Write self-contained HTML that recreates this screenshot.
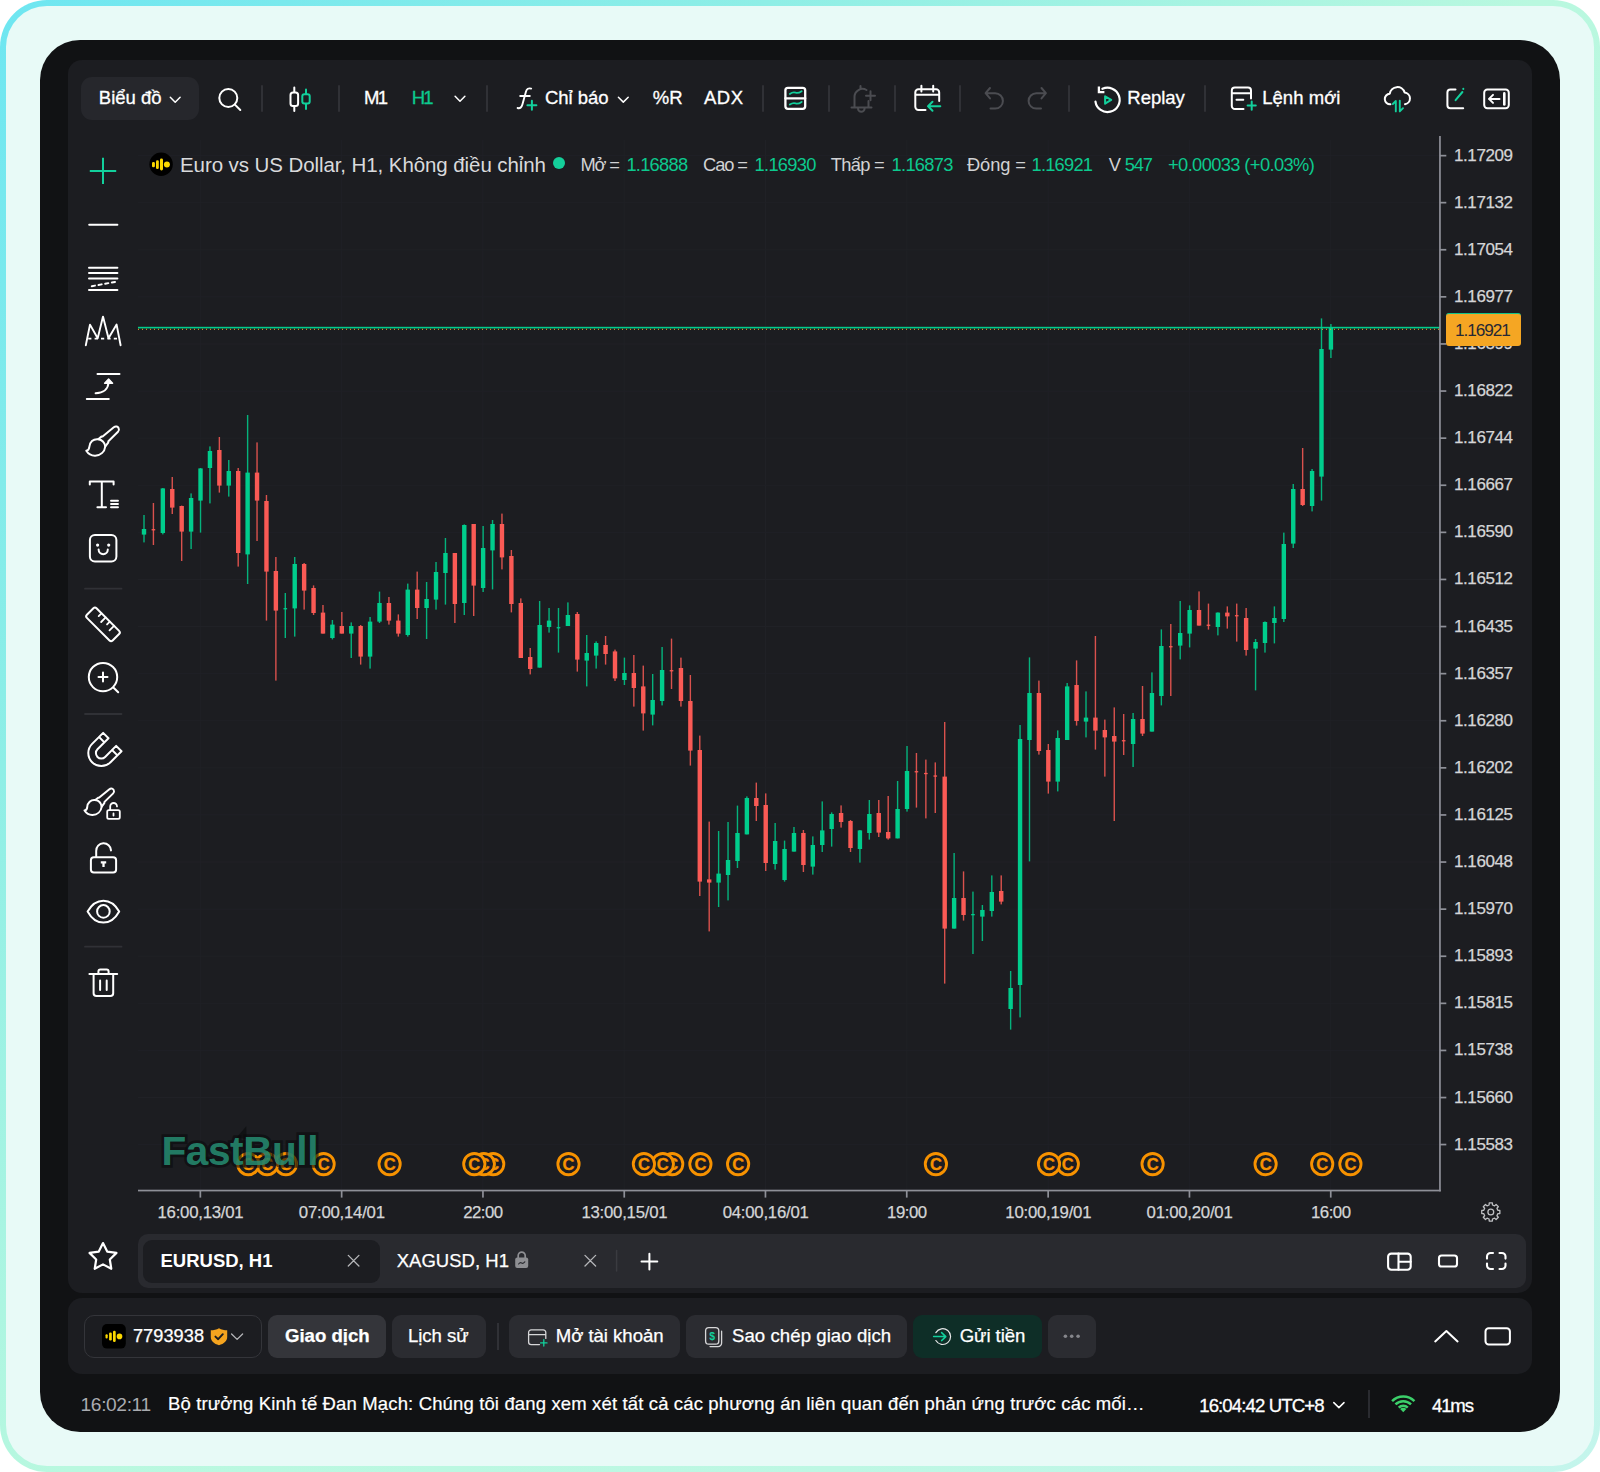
<!DOCTYPE html>
<html lang="vi">
<head>
<meta charset="utf-8">
<title>FastBull chart</title>
<style>
*{box-sizing:border-box;margin:0;padding:0}
html,body{width:1600px;height:1472px;background:#fff;overflow:hidden}
body{position:relative;font-family:"Liberation Sans",sans-serif;color:#fff}
.abs{position:absolute}
.frame{position:absolute;left:0;top:0;width:1600px;height:1472px;border-radius:47px;background:linear-gradient(135deg,#6ee6f1 0%,#8eeee6 25%,#b9f8df 50%,#bdf7e3 75%,#c4f5ec 100%)}
.frame-in{position:absolute;left:6px;top:6px;width:1588px;height:1460px;border-radius:41px;background:#e8faf7}
.dark{position:absolute;left:40px;top:40px;width:1520px;height:1392px;border-radius:40px;background:#111214}
.panel{position:absolute;left:68px;top:60px;width:1463.5px;height:1233.2px;border-radius:14px;background:#1c1d21}
.panel2{position:absolute;left:68px;top:1298.3px;width:1463.5px;height:75.9px;border-radius:14px;background:#1c1d21}
.t{position:absolute;white-space:nowrap;line-height:24px;height:24px}
.sep{position:absolute;width:2px;height:27px;top:85px;background:#303136;border-radius:1px}
.btn{position:absolute;top:1315px;height:43px;border-radius:9px;background:#2b2c31}
svg{position:absolute;overflow:visible}
</style>
</head>
<body>
<div class="frame"><div class="frame-in"></div></div>
<div class="dark"></div>
<div class="panel"></div>
<div class="panel2"></div>

<!-- ===== chart ===== -->
<svg width="1600" height="1472" viewBox="0 0 1600 1472" style="left:0;top:0">
<rect x="199.8" y="140" width="1" height="1050" fill="#202126"/>
<rect x="341.1" y="140" width="1" height="1050" fill="#202126"/>
<rect x="482.4" y="140" width="1" height="1050" fill="#202126"/>
<rect x="623.7" y="140" width="1" height="1050" fill="#202126"/>
<rect x="765.0" y="140" width="1" height="1050" fill="#202126"/>
<rect x="906.3" y="140" width="1" height="1050" fill="#202126"/>
<rect x="1047.6" y="140" width="1" height="1050" fill="#202126"/>
<rect x="1188.9" y="140" width="1" height="1050" fill="#202126"/>
<rect x="1330.2" y="140" width="1" height="1050" fill="#202126"/>
<rect x="138" y="155.1" width="1302" height="1" fill="#202126"/>
<rect x="138" y="202.2" width="1302" height="1" fill="#202126"/>
<rect x="138" y="249.3" width="1302" height="1" fill="#202126"/>
<rect x="138" y="296.4" width="1302" height="1" fill="#202126"/>
<rect x="138" y="343.5" width="1302" height="1" fill="#202126"/>
<rect x="138" y="390.6" width="1302" height="1" fill="#202126"/>
<rect x="138" y="437.7" width="1302" height="1" fill="#202126"/>
<rect x="138" y="484.8" width="1302" height="1" fill="#202126"/>
<rect x="138" y="531.9" width="1302" height="1" fill="#202126"/>
<rect x="138" y="579.0" width="1302" height="1" fill="#202126"/>
<rect x="138" y="626.0" width="1302" height="1" fill="#202126"/>
<rect x="138" y="673.1" width="1302" height="1" fill="#202126"/>
<rect x="138" y="720.2" width="1302" height="1" fill="#202126"/>
<rect x="138" y="767.3" width="1302" height="1" fill="#202126"/>
<rect x="138" y="814.4" width="1302" height="1" fill="#202126"/>
<rect x="138" y="861.5" width="1302" height="1" fill="#202126"/>
<rect x="138" y="908.6" width="1302" height="1" fill="#202126"/>
<rect x="138" y="955.7" width="1302" height="1" fill="#202126"/>
<rect x="138" y="1002.8" width="1302" height="1" fill="#202126"/>
<rect x="138" y="1049.9" width="1302" height="1" fill="#202126"/>
<rect x="138" y="1097.0" width="1302" height="1" fill="#202126"/>
<rect x="138" y="1144.1" width="1302" height="1" fill="#202126"/>
<rect x="143.30" y="515.0" width="1.4" height="27.4" fill="#00cd8c" opacity="0.85"/><rect x="141.80" y="529.0" width="4.4" height="5.6" fill="#00cd8c"/>
<rect x="152.72" y="503.0" width="1.4" height="42.0" fill="#fa5a55" opacity="0.85"/><rect x="151.62" y="529.1" width="3.6" height="1.3" fill="#fa5a55"/>
<rect x="162.14" y="488.0" width="1.4" height="46.4" fill="#00cd8c" opacity="0.85"/><rect x="160.64" y="488.4" width="4.4" height="44.6" fill="#00cd8c"/>
<rect x="171.56" y="477.0" width="1.4" height="37.0" fill="#fa5a55" opacity="0.85"/><rect x="170.06" y="489.0" width="4.4" height="18.6" fill="#fa5a55"/>
<rect x="180.98" y="505.6" width="1.4" height="55.4" fill="#fa5a55" opacity="0.85"/><rect x="179.48" y="506.0" width="4.4" height="25.6" fill="#fa5a55"/>
<rect x="190.40" y="493.4" width="1.4" height="55.6" fill="#00cd8c" opacity="0.85"/><rect x="188.90" y="498.0" width="4.4" height="33.6" fill="#00cd8c"/>
<rect x="199.82" y="468.0" width="1.4" height="64.6" fill="#00cd8c" opacity="0.85"/><rect x="198.32" y="468.4" width="4.4" height="32.2" fill="#00cd8c"/>
<rect x="209.24" y="446.4" width="1.4" height="57.0" fill="#00cd8c" opacity="0.85"/><rect x="207.74" y="451.0" width="4.4" height="17.0" fill="#00cd8c"/>
<rect x="218.66" y="437.0" width="1.4" height="55.6" fill="#fa5a55" opacity="0.85"/><rect x="217.16" y="450.0" width="4.4" height="35.6" fill="#fa5a55"/>
<rect x="228.08" y="460.0" width="1.4" height="36.6" fill="#00cd8c" opacity="0.85"/><rect x="226.58" y="471.0" width="4.4" height="14.6" fill="#00cd8c"/>
<rect x="237.50" y="468.0" width="1.4" height="98.6" fill="#fa5a55" opacity="0.85"/><rect x="236.00" y="471.0" width="4.4" height="82.0" fill="#fa5a55"/>
<rect x="246.92" y="415.0" width="1.4" height="169.0" fill="#00cd8c" opacity="0.85"/><rect x="245.42" y="472.6" width="4.4" height="81.8" fill="#00cd8c"/>
<rect x="256.34" y="442.4" width="1.4" height="98.6" fill="#fa5a55" opacity="0.85"/><rect x="254.84" y="472.6" width="4.4" height="28.0" fill="#fa5a55"/>
<rect x="265.76" y="495.0" width="1.4" height="125.6" fill="#fa5a55" opacity="0.85"/><rect x="264.26" y="501.0" width="4.4" height="70.6" fill="#fa5a55"/>
<rect x="275.18" y="557.0" width="1.4" height="123.6" fill="#fa5a55" opacity="0.85"/><rect x="273.68" y="571.0" width="4.4" height="39.6" fill="#fa5a55"/>
<rect x="284.60" y="593.0" width="1.4" height="45.0" fill="#00cd8c" opacity="0.85"/><rect x="283.50" y="608.1" width="3.6" height="1.3" fill="#00cd8c"/>
<rect x="294.02" y="557.0" width="1.4" height="79.6" fill="#00cd8c" opacity="0.85"/><rect x="292.52" y="564.0" width="4.4" height="44.4" fill="#00cd8c"/>
<rect x="303.44" y="563.0" width="1.4" height="46.6" fill="#fa5a55" opacity="0.85"/><rect x="301.94" y="564.0" width="4.4" height="26.6" fill="#fa5a55"/>
<rect x="312.86" y="585.4" width="1.4" height="29.6" fill="#fa5a55" opacity="0.85"/><rect x="311.36" y="588.0" width="4.4" height="25.0" fill="#fa5a55"/>
<rect x="322.28" y="605.0" width="1.4" height="28.6" fill="#fa5a55" opacity="0.85"/><rect x="320.78" y="612.6" width="4.4" height="21.0" fill="#fa5a55"/>
<rect x="331.70" y="620.0" width="1.4" height="19.4" fill="#00cd8c" opacity="0.85"/><rect x="330.20" y="624.6" width="4.4" height="13.4" fill="#00cd8c"/>
<rect x="341.12" y="612.0" width="1.4" height="21.6" fill="#fa5a55" opacity="0.85"/><rect x="339.62" y="626.0" width="4.4" height="7.6" fill="#fa5a55"/>
<rect x="350.54" y="622.4" width="1.4" height="35.6" fill="#00cd8c" opacity="0.85"/><rect x="349.04" y="626.0" width="4.4" height="7.6" fill="#00cd8c"/>
<rect x="359.96" y="625.0" width="1.4" height="39.6" fill="#fa5a55" opacity="0.85"/><rect x="358.46" y="626.0" width="4.4" height="30.6" fill="#fa5a55"/>
<rect x="369.38" y="617.0" width="1.4" height="51.6" fill="#00cd8c" opacity="0.85"/><rect x="367.88" y="621.6" width="4.4" height="35.0" fill="#00cd8c"/>
<rect x="378.80" y="591.6" width="1.4" height="31.4" fill="#00cd8c" opacity="0.85"/><rect x="377.30" y="603.0" width="4.4" height="18.6" fill="#00cd8c"/>
<rect x="388.22" y="597.0" width="1.4" height="27.6" fill="#fa5a55" opacity="0.85"/><rect x="386.72" y="603.0" width="4.4" height="17.6" fill="#fa5a55"/>
<rect x="397.64" y="614.4" width="1.4" height="22.2" fill="#fa5a55" opacity="0.85"/><rect x="396.14" y="620.6" width="4.4" height="13.0" fill="#fa5a55"/>
<rect x="407.06" y="583.6" width="1.4" height="53.0" fill="#00cd8c" opacity="0.85"/><rect x="405.56" y="589.6" width="4.4" height="45.4" fill="#00cd8c"/>
<rect x="416.48" y="571.6" width="1.4" height="47.4" fill="#fa5a55" opacity="0.85"/><rect x="414.98" y="589.6" width="4.4" height="18.4" fill="#fa5a55"/>
<rect x="425.90" y="582.0" width="1.4" height="57.0" fill="#00cd8c" opacity="0.85"/><rect x="424.40" y="599.0" width="4.4" height="9.0" fill="#00cd8c"/>
<rect x="435.32" y="562.0" width="1.4" height="47.6" fill="#00cd8c" opacity="0.85"/><rect x="433.82" y="572.0" width="4.4" height="27.6" fill="#00cd8c"/>
<rect x="444.74" y="538.0" width="1.4" height="66.6" fill="#00cd8c" opacity="0.85"/><rect x="443.24" y="553.0" width="4.4" height="20.0" fill="#00cd8c"/>
<rect x="454.16" y="553.0" width="1.4" height="70.0" fill="#fa5a55" opacity="0.85"/><rect x="452.66" y="553.0" width="4.4" height="51.0" fill="#fa5a55"/>
<rect x="463.58" y="524.4" width="1.4" height="90.6" fill="#00cd8c" opacity="0.85"/><rect x="462.08" y="525.0" width="4.4" height="78.0" fill="#00cd8c"/>
<rect x="473.00" y="524.0" width="1.4" height="92.0" fill="#fa5a55" opacity="0.85"/><rect x="471.50" y="524.0" width="4.4" height="61.6" fill="#fa5a55"/>
<rect x="482.42" y="526.0" width="1.4" height="66.0" fill="#00cd8c" opacity="0.85"/><rect x="480.92" y="548.0" width="4.4" height="40.0" fill="#00cd8c"/>
<rect x="491.84" y="520.0" width="1.4" height="69.4" fill="#00cd8c" opacity="0.85"/><rect x="490.34" y="524.0" width="4.4" height="26.4" fill="#00cd8c"/>
<rect x="501.26" y="513.6" width="1.4" height="55.8" fill="#fa5a55" opacity="0.85"/><rect x="499.76" y="524.0" width="4.4" height="33.4" fill="#fa5a55"/>
<rect x="510.68" y="550.0" width="1.4" height="62.4" fill="#fa5a55" opacity="0.85"/><rect x="509.18" y="556.0" width="4.4" height="48.0" fill="#fa5a55"/>
<rect x="520.10" y="598.4" width="1.4" height="59.6" fill="#fa5a55" opacity="0.85"/><rect x="518.60" y="603.0" width="4.4" height="55.0" fill="#fa5a55"/>
<rect x="529.52" y="648.0" width="1.4" height="26.4" fill="#fa5a55" opacity="0.85"/><rect x="528.02" y="657.0" width="4.4" height="12.0" fill="#fa5a55"/>
<rect x="538.94" y="601.0" width="1.4" height="66.6" fill="#00cd8c" opacity="0.85"/><rect x="537.44" y="625.0" width="4.4" height="42.6" fill="#00cd8c"/>
<rect x="548.36" y="608.0" width="1.4" height="24.6" fill="#00cd8c" opacity="0.85"/><rect x="546.86" y="620.6" width="4.4" height="6.4" fill="#00cd8c"/>
<rect x="557.78" y="608.0" width="1.4" height="44.6" fill="#00cd8c" opacity="0.85"/><rect x="556.68" y="627.1" width="3.6" height="1.3" fill="#00cd8c"/>
<rect x="567.20" y="602.4" width="1.4" height="23.6" fill="#00cd8c" opacity="0.85"/><rect x="565.70" y="615.0" width="4.4" height="11.0" fill="#00cd8c"/>
<rect x="576.62" y="612.0" width="1.4" height="59.6" fill="#fa5a55" opacity="0.85"/><rect x="575.12" y="614.0" width="4.4" height="45.6" fill="#fa5a55"/>
<rect x="586.04" y="635.0" width="1.4" height="51.4" fill="#00cd8c" opacity="0.85"/><rect x="584.54" y="653.0" width="4.4" height="7.6" fill="#00cd8c"/>
<rect x="595.46" y="641.4" width="1.4" height="27.2" fill="#00cd8c" opacity="0.85"/><rect x="593.96" y="643.0" width="4.4" height="12.6" fill="#00cd8c"/>
<rect x="604.88" y="636.0" width="1.4" height="28.6" fill="#fa5a55" opacity="0.85"/><rect x="603.38" y="645.0" width="4.4" height="9.0" fill="#fa5a55"/>
<rect x="614.30" y="649.6" width="1.4" height="31.4" fill="#fa5a55" opacity="0.85"/><rect x="612.80" y="651.4" width="4.4" height="27.0" fill="#fa5a55"/>
<rect x="623.72" y="657.6" width="1.4" height="27.4" fill="#00cd8c" opacity="0.85"/><rect x="622.22" y="673.0" width="4.4" height="7.0" fill="#00cd8c"/>
<rect x="633.14" y="655.0" width="1.4" height="51.6" fill="#fa5a55" opacity="0.85"/><rect x="631.64" y="673.0" width="4.4" height="15.0" fill="#fa5a55"/>
<rect x="642.56" y="665.6" width="1.4" height="65.0" fill="#fa5a55" opacity="0.85"/><rect x="641.06" y="686.4" width="4.4" height="27.0" fill="#fa5a55"/>
<rect x="651.98" y="674.0" width="1.4" height="51.4" fill="#00cd8c" opacity="0.85"/><rect x="650.48" y="700.0" width="4.4" height="14.6" fill="#00cd8c"/>
<rect x="661.40" y="647.0" width="1.4" height="58.4" fill="#00cd8c" opacity="0.85"/><rect x="659.90" y="670.0" width="4.4" height="31.0" fill="#00cd8c"/>
<rect x="670.82" y="638.6" width="1.4" height="50.4" fill="#fa5a55" opacity="0.85"/><rect x="669.72" y="670.1" width="3.6" height="1.3" fill="#fa5a55"/>
<rect x="680.24" y="657.6" width="1.4" height="49.0" fill="#fa5a55" opacity="0.85"/><rect x="678.74" y="668.0" width="4.4" height="33.0" fill="#fa5a55"/>
<rect x="689.66" y="675.0" width="1.4" height="90.6" fill="#fa5a55" opacity="0.85"/><rect x="688.16" y="701.0" width="4.4" height="49.6" fill="#fa5a55"/>
<rect x="699.08" y="735.6" width="1.4" height="160.4" fill="#fa5a55" opacity="0.85"/><rect x="697.58" y="750.0" width="4.4" height="131.6" fill="#fa5a55"/>
<rect x="708.50" y="821.6" width="1.4" height="109.8" fill="#fa5a55" opacity="0.85"/><rect x="707.00" y="879.4" width="4.4" height="3.2" fill="#fa5a55"/>
<rect x="717.92" y="831.0" width="1.4" height="76.0" fill="#00cd8c" opacity="0.85"/><rect x="716.42" y="873.6" width="4.4" height="9.0" fill="#00cd8c"/>
<rect x="727.34" y="822.0" width="1.4" height="78.4" fill="#00cd8c" opacity="0.85"/><rect x="725.84" y="860.0" width="4.4" height="15.0" fill="#00cd8c"/>
<rect x="736.76" y="805.6" width="1.4" height="62.4" fill="#00cd8c" opacity="0.85"/><rect x="735.26" y="833.0" width="4.4" height="28.0" fill="#00cd8c"/>
<rect x="746.18" y="796.4" width="1.4" height="38.0" fill="#00cd8c" opacity="0.85"/><rect x="744.68" y="798.0" width="4.4" height="36.4" fill="#00cd8c"/>
<rect x="755.60" y="782.6" width="1.4" height="38.4" fill="#fa5a55" opacity="0.85"/><rect x="754.10" y="798.0" width="4.4" height="8.0" fill="#fa5a55"/>
<rect x="765.02" y="793.4" width="1.4" height="77.6" fill="#fa5a55" opacity="0.85"/><rect x="763.52" y="805.0" width="4.4" height="58.0" fill="#fa5a55"/>
<rect x="774.44" y="823.0" width="1.4" height="46.6" fill="#00cd8c" opacity="0.85"/><rect x="772.94" y="841.0" width="4.4" height="23.0" fill="#00cd8c"/>
<rect x="783.86" y="840.6" width="1.4" height="41.0" fill="#00cd8c" opacity="0.85"/><rect x="782.36" y="849.0" width="4.4" height="31.0" fill="#00cd8c"/>
<rect x="793.28" y="827.0" width="1.4" height="24.6" fill="#00cd8c" opacity="0.85"/><rect x="791.78" y="833.0" width="4.4" height="18.6" fill="#00cd8c"/>
<rect x="802.70" y="830.0" width="1.4" height="42.0" fill="#fa5a55" opacity="0.85"/><rect x="801.20" y="833.0" width="4.4" height="32.0" fill="#fa5a55"/>
<rect x="812.12" y="836.4" width="1.4" height="38.2" fill="#00cd8c" opacity="0.85"/><rect x="810.62" y="845.0" width="4.4" height="21.6" fill="#00cd8c"/>
<rect x="821.54" y="801.4" width="1.4" height="50.6" fill="#00cd8c" opacity="0.85"/><rect x="820.04" y="830.4" width="4.4" height="14.6" fill="#00cd8c"/>
<rect x="830.96" y="812.4" width="1.4" height="34.2" fill="#00cd8c" opacity="0.85"/><rect x="829.46" y="814.0" width="4.4" height="15.0" fill="#00cd8c"/>
<rect x="840.38" y="805.4" width="1.4" height="22.2" fill="#fa5a55" opacity="0.85"/><rect x="838.88" y="813.0" width="4.4" height="9.0" fill="#fa5a55"/>
<rect x="849.80" y="820.0" width="1.4" height="32.0" fill="#fa5a55" opacity="0.85"/><rect x="848.30" y="821.0" width="4.4" height="27.0" fill="#fa5a55"/>
<rect x="859.22" y="830.0" width="1.4" height="32.6" fill="#00cd8c" opacity="0.85"/><rect x="857.72" y="830.4" width="4.4" height="18.6" fill="#00cd8c"/>
<rect x="868.64" y="800.0" width="1.4" height="39.6" fill="#00cd8c" opacity="0.85"/><rect x="867.14" y="814.0" width="4.4" height="19.0" fill="#00cd8c"/>
<rect x="878.06" y="800.0" width="1.4" height="37.0" fill="#fa5a55" opacity="0.85"/><rect x="876.56" y="813.0" width="4.4" height="19.6" fill="#fa5a55"/>
<rect x="887.48" y="796.0" width="1.4" height="43.6" fill="#fa5a55" opacity="0.85"/><rect x="885.98" y="832.0" width="4.4" height="6.4" fill="#fa5a55"/>
<rect x="896.90" y="781.0" width="1.4" height="57.4" fill="#00cd8c" opacity="0.85"/><rect x="895.40" y="809.0" width="4.4" height="29.4" fill="#00cd8c"/>
<rect x="906.32" y="746.0" width="1.4" height="65.6" fill="#00cd8c" opacity="0.85"/><rect x="904.82" y="771.0" width="4.4" height="38.0" fill="#00cd8c"/>
<rect x="915.74" y="753.0" width="1.4" height="54.6" fill="#fa5a55" opacity="0.85"/><rect x="914.64" y="771.1" width="3.6" height="1.3" fill="#fa5a55"/>
<rect x="925.16" y="759.6" width="1.4" height="58.8" fill="#fa5a55" opacity="0.85"/><rect x="924.06" y="772.9" width="3.6" height="1.3" fill="#fa5a55"/>
<rect x="934.58" y="762.4" width="1.4" height="50.6" fill="#fa5a55" opacity="0.85"/><rect x="933.48" y="775.4" width="3.6" height="1.3" fill="#fa5a55"/>
<rect x="944.00" y="722.0" width="1.4" height="261.6" fill="#fa5a55" opacity="0.85"/><rect x="942.50" y="776.6" width="4.4" height="152.0" fill="#fa5a55"/>
<rect x="953.42" y="853.0" width="1.4" height="75.6" fill="#00cd8c" opacity="0.85"/><rect x="951.92" y="898.0" width="4.4" height="30.6" fill="#00cd8c"/>
<rect x="962.84" y="871.4" width="1.4" height="49.2" fill="#fa5a55" opacity="0.85"/><rect x="961.34" y="898.0" width="4.4" height="17.0" fill="#fa5a55"/>
<rect x="972.26" y="891.6" width="1.4" height="62.4" fill="#00cd8c" opacity="0.85"/><rect x="971.16" y="914.0" width="3.6" height="1.3" fill="#00cd8c"/>
<rect x="981.68" y="905.0" width="1.4" height="36.0" fill="#00cd8c" opacity="0.85"/><rect x="980.18" y="910.0" width="4.4" height="6.6" fill="#00cd8c"/>
<rect x="991.10" y="875.4" width="1.4" height="41.2" fill="#00cd8c" opacity="0.85"/><rect x="989.60" y="892.0" width="4.4" height="19.0" fill="#00cd8c"/>
<rect x="1000.52" y="875.4" width="1.4" height="29.0" fill="#fa5a55" opacity="0.85"/><rect x="999.02" y="891.0" width="4.4" height="10.6" fill="#fa5a55"/>
<rect x="1009.94" y="971.0" width="1.4" height="58.6" fill="#00cd8c" opacity="0.85"/><rect x="1008.44" y="988.0" width="4.4" height="21.0" fill="#00cd8c"/>
<rect x="1019.36" y="725.0" width="1.4" height="292.4" fill="#00cd8c" opacity="0.85"/><rect x="1017.86" y="739.0" width="4.4" height="246.0" fill="#00cd8c"/>
<rect x="1028.78" y="657.4" width="1.4" height="204.0" fill="#00cd8c" opacity="0.85"/><rect x="1027.28" y="693.0" width="4.4" height="47.0" fill="#00cd8c"/>
<rect x="1038.20" y="680.6" width="1.4" height="74.0" fill="#fa5a55" opacity="0.85"/><rect x="1036.70" y="693.0" width="4.4" height="58.0" fill="#fa5a55"/>
<rect x="1047.62" y="744.0" width="1.4" height="49.6" fill="#fa5a55" opacity="0.85"/><rect x="1046.12" y="750.0" width="4.4" height="31.6" fill="#fa5a55"/>
<rect x="1057.04" y="730.4" width="1.4" height="61.0" fill="#00cd8c" opacity="0.85"/><rect x="1055.54" y="738.0" width="4.4" height="43.6" fill="#00cd8c"/>
<rect x="1066.46" y="683.0" width="1.4" height="57.0" fill="#00cd8c" opacity="0.85"/><rect x="1064.96" y="686.4" width="4.4" height="53.6" fill="#00cd8c"/>
<rect x="1075.88" y="660.4" width="1.4" height="65.2" fill="#fa5a55" opacity="0.85"/><rect x="1074.38" y="685.0" width="4.4" height="36.0" fill="#fa5a55"/>
<rect x="1085.30" y="691.4" width="1.4" height="46.0" fill="#00cd8c" opacity="0.85"/><rect x="1083.80" y="717.6" width="4.4" height="4.0" fill="#00cd8c"/>
<rect x="1094.72" y="636.0" width="1.4" height="113.6" fill="#fa5a55" opacity="0.85"/><rect x="1093.22" y="717.6" width="4.4" height="13.0" fill="#fa5a55"/>
<rect x="1104.14" y="719.6" width="1.4" height="57.0" fill="#fa5a55" opacity="0.85"/><rect x="1102.64" y="730.0" width="4.4" height="7.4" fill="#fa5a55"/>
<rect x="1113.56" y="707.4" width="1.4" height="113.6" fill="#fa5a55" opacity="0.85"/><rect x="1112.06" y="736.0" width="4.4" height="5.6" fill="#fa5a55"/>
<rect x="1122.98" y="714.0" width="1.4" height="41.0" fill="#fa5a55" opacity="0.85"/><rect x="1121.88" y="740.1" width="3.6" height="1.3" fill="#fa5a55"/>
<rect x="1132.40" y="713.0" width="1.4" height="54.0" fill="#00cd8c" opacity="0.85"/><rect x="1130.90" y="719.0" width="4.4" height="25.0" fill="#00cd8c"/>
<rect x="1141.82" y="686.0" width="1.4" height="50.0" fill="#fa5a55" opacity="0.85"/><rect x="1140.32" y="719.0" width="4.4" height="14.6" fill="#fa5a55"/>
<rect x="1151.24" y="672.4" width="1.4" height="59.2" fill="#00cd8c" opacity="0.85"/><rect x="1149.74" y="693.0" width="4.4" height="38.6" fill="#00cd8c"/>
<rect x="1160.66" y="629.4" width="1.4" height="76.0" fill="#00cd8c" opacity="0.85"/><rect x="1159.16" y="646.0" width="4.4" height="50.0" fill="#00cd8c"/>
<rect x="1170.08" y="624.0" width="1.4" height="72.0" fill="#fa5a55" opacity="0.85"/><rect x="1168.98" y="646.1" width="3.6" height="1.3" fill="#fa5a55"/>
<rect x="1179.50" y="601.0" width="1.4" height="58.4" fill="#00cd8c" opacity="0.85"/><rect x="1178.00" y="633.0" width="4.4" height="12.6" fill="#00cd8c"/>
<rect x="1188.92" y="605.4" width="1.4" height="42.0" fill="#00cd8c" opacity="0.85"/><rect x="1187.42" y="610.0" width="4.4" height="23.6" fill="#00cd8c"/>
<rect x="1198.34" y="591.4" width="1.4" height="34.2" fill="#fa5a55" opacity="0.85"/><rect x="1196.84" y="610.0" width="4.4" height="15.6" fill="#fa5a55"/>
<rect x="1207.76" y="603.6" width="1.4" height="26.0" fill="#fa5a55" opacity="0.85"/><rect x="1206.66" y="624.6" width="3.6" height="1.3" fill="#fa5a55"/>
<rect x="1217.18" y="612.4" width="1.4" height="23.0" fill="#00cd8c" opacity="0.85"/><rect x="1215.68" y="612.6" width="4.4" height="14.4" fill="#00cd8c"/>
<rect x="1226.60" y="606.4" width="1.4" height="22.2" fill="#fa5a55" opacity="0.85"/><rect x="1225.10" y="612.6" width="4.4" height="3.8" fill="#fa5a55"/>
<rect x="1236.02" y="603.6" width="1.4" height="38.0" fill="#fa5a55" opacity="0.85"/><rect x="1234.92" y="615.1" width="3.6" height="1.3" fill="#fa5a55"/>
<rect x="1245.44" y="608.0" width="1.4" height="47.6" fill="#fa5a55" opacity="0.85"/><rect x="1243.94" y="618.0" width="4.4" height="32.0" fill="#fa5a55"/>
<rect x="1254.86" y="639.0" width="1.4" height="51.4" fill="#00cd8c" opacity="0.85"/><rect x="1253.36" y="642.0" width="4.4" height="6.6" fill="#00cd8c"/>
<rect x="1264.28" y="621.4" width="1.4" height="31.2" fill="#00cd8c" opacity="0.85"/><rect x="1262.78" y="622.0" width="4.4" height="21.0" fill="#00cd8c"/>
<rect x="1273.70" y="606.4" width="1.4" height="37.0" fill="#00cd8c" opacity="0.85"/><rect x="1272.20" y="618.0" width="4.4" height="5.0" fill="#00cd8c"/>
<rect x="1283.12" y="532.6" width="1.4" height="89.4" fill="#00cd8c" opacity="0.85"/><rect x="1281.62" y="544.0" width="4.4" height="75.0" fill="#00cd8c"/>
<rect x="1292.54" y="484.0" width="1.4" height="64.0" fill="#00cd8c" opacity="0.85"/><rect x="1291.04" y="489.0" width="4.4" height="54.6" fill="#00cd8c"/>
<rect x="1301.96" y="448.0" width="1.4" height="58.0" fill="#fa5a55" opacity="0.85"/><rect x="1300.46" y="489.0" width="4.4" height="16.0" fill="#fa5a55"/>
<rect x="1311.38" y="469.0" width="1.4" height="42.4" fill="#00cd8c" opacity="0.85"/><rect x="1309.88" y="471.0" width="4.4" height="35.0" fill="#00cd8c"/>
<rect x="1320.80" y="318.4" width="1.4" height="182.2" fill="#00cd8c" opacity="0.85"/><rect x="1319.30" y="349.0" width="4.4" height="127.6" fill="#00cd8c"/>
<rect x="1330.22" y="324.0" width="1.4" height="34.0" fill="#00cd8c" opacity="0.85"/><rect x="1328.72" y="328.0" width="4.4" height="21.6" fill="#00cd8c"/>
<rect x="138" y="326.8" width="1302" height="1.6" fill="#00cd8c"/>
<line x1="138" y1="329.3" x2="1440" y2="329.3" stroke="#f5a623" stroke-width="1" stroke-dasharray="1 3"/>
<rect x="1439.1" y="136" width="1.7" height="1055.4" fill="#8e9098"/>
<rect x="138" y="1189.7" width="1302.8" height="1.7" fill="#8e9098"/>
<rect x="1440" y="154.8" width="6.3" height="1.7" fill="#8e9098"/>
<rect x="1440" y="201.8" width="6.3" height="1.7" fill="#8e9098"/>
<rect x="1440" y="248.9" width="6.3" height="1.7" fill="#8e9098"/>
<rect x="1440" y="296.0" width="6.3" height="1.7" fill="#8e9098"/>
<rect x="1440" y="343.1" width="6.3" height="1.7" fill="#8e9098"/>
<rect x="1440" y="390.2" width="6.3" height="1.7" fill="#8e9098"/>
<rect x="1440" y="437.3" width="6.3" height="1.7" fill="#8e9098"/>
<rect x="1440" y="484.4" width="6.3" height="1.7" fill="#8e9098"/>
<rect x="1440" y="531.5" width="6.3" height="1.7" fill="#8e9098"/>
<rect x="1440" y="578.6" width="6.3" height="1.7" fill="#8e9098"/>
<rect x="1440" y="625.7" width="6.3" height="1.7" fill="#8e9098"/>
<rect x="1440" y="672.8" width="6.3" height="1.7" fill="#8e9098"/>
<rect x="1440" y="719.9" width="6.3" height="1.7" fill="#8e9098"/>
<rect x="1440" y="767.0" width="6.3" height="1.7" fill="#8e9098"/>
<rect x="1440" y="814.1" width="6.3" height="1.7" fill="#8e9098"/>
<rect x="1440" y="861.2" width="6.3" height="1.7" fill="#8e9098"/>
<rect x="1440" y="908.3" width="6.3" height="1.7" fill="#8e9098"/>
<rect x="1440" y="955.4" width="6.3" height="1.7" fill="#8e9098"/>
<rect x="1440" y="1002.5" width="6.3" height="1.7" fill="#8e9098"/>
<rect x="1440" y="1049.6" width="6.3" height="1.7" fill="#8e9098"/>
<rect x="1440" y="1096.7" width="6.3" height="1.7" fill="#8e9098"/>
<rect x="1440" y="1143.7" width="6.3" height="1.7" fill="#8e9098"/>
<rect x="199.5" y="1190" width="1.7" height="7.6" fill="#8e9098"/>
<rect x="340.8" y="1190" width="1.7" height="7.6" fill="#8e9098"/>
<rect x="482.1" y="1190" width="1.7" height="7.6" fill="#8e9098"/>
<rect x="623.4" y="1190" width="1.7" height="7.6" fill="#8e9098"/>
<rect x="764.6" y="1190" width="1.7" height="7.6" fill="#8e9098"/>
<rect x="905.9" y="1190" width="1.7" height="7.6" fill="#8e9098"/>
<rect x="1047.3" y="1190" width="1.7" height="7.6" fill="#8e9098"/>
<rect x="1188.6" y="1190" width="1.7" height="7.6" fill="#8e9098"/>
<rect x="1329.9" y="1190" width="1.7" height="7.6" fill="#8e9098"/>
<g><circle cx="1350.4" cy="1164.1" r="10.65" fill="#1c1d21" stroke="#f79200" stroke-width="2.85"/><text x="1350.4" y="1169.9" text-anchor="middle" font-family="Liberation Sans, sans-serif" font-weight="bold" font-size="16.6" textLength="11.9" lengthAdjust="spacingAndGlyphs" fill="#f79200" stroke="#f79200" stroke-width="0.35">C</text></g>
<g><circle cx="1322.2" cy="1164.1" r="10.65" fill="#1c1d21" stroke="#f79200" stroke-width="2.85"/><text x="1322.2" y="1169.9" text-anchor="middle" font-family="Liberation Sans, sans-serif" font-weight="bold" font-size="16.6" textLength="11.9" lengthAdjust="spacingAndGlyphs" fill="#f79200" stroke="#f79200" stroke-width="0.35">C</text></g>
<g><circle cx="1265.6" cy="1164.1" r="10.65" fill="#1c1d21" stroke="#f79200" stroke-width="2.85"/><text x="1265.6" y="1169.9" text-anchor="middle" font-family="Liberation Sans, sans-serif" font-weight="bold" font-size="16.6" textLength="11.9" lengthAdjust="spacingAndGlyphs" fill="#f79200" stroke="#f79200" stroke-width="0.35">C</text></g>
<g><circle cx="1152.6" cy="1164.1" r="10.65" fill="#1c1d21" stroke="#f79200" stroke-width="2.85"/><text x="1152.6" y="1169.9" text-anchor="middle" font-family="Liberation Sans, sans-serif" font-weight="bold" font-size="16.6" textLength="11.9" lengthAdjust="spacingAndGlyphs" fill="#f79200" stroke="#f79200" stroke-width="0.35">C</text></g>
<g><circle cx="1067.8" cy="1164.1" r="10.65" fill="#1c1d21" stroke="#f79200" stroke-width="2.85"/><text x="1067.8" y="1169.9" text-anchor="middle" font-family="Liberation Sans, sans-serif" font-weight="bold" font-size="16.6" textLength="11.9" lengthAdjust="spacingAndGlyphs" fill="#f79200" stroke="#f79200" stroke-width="0.35">C</text></g>
<g><circle cx="1049.0" cy="1164.1" r="10.65" fill="#1c1d21" stroke="#f79200" stroke-width="2.85"/><text x="1049.0" y="1169.9" text-anchor="middle" font-family="Liberation Sans, sans-serif" font-weight="bold" font-size="16.6" textLength="11.9" lengthAdjust="spacingAndGlyphs" fill="#f79200" stroke="#f79200" stroke-width="0.35">C</text></g>
<g><circle cx="935.9" cy="1164.1" r="10.65" fill="#1c1d21" stroke="#f79200" stroke-width="2.85"/><text x="935.9" y="1169.9" text-anchor="middle" font-family="Liberation Sans, sans-serif" font-weight="bold" font-size="16.6" textLength="11.9" lengthAdjust="spacingAndGlyphs" fill="#f79200" stroke="#f79200" stroke-width="0.35">C</text></g>
<g><circle cx="738.1" cy="1164.1" r="10.65" fill="#1c1d21" stroke="#f79200" stroke-width="2.85"/><text x="738.1" y="1169.9" text-anchor="middle" font-family="Liberation Sans, sans-serif" font-weight="bold" font-size="16.6" textLength="11.9" lengthAdjust="spacingAndGlyphs" fill="#f79200" stroke="#f79200" stroke-width="0.35">C</text></g>
<g><circle cx="700.4" cy="1164.1" r="10.65" fill="#1c1d21" stroke="#f79200" stroke-width="2.85"/><text x="700.4" y="1169.9" text-anchor="middle" font-family="Liberation Sans, sans-serif" font-weight="bold" font-size="16.6" textLength="11.9" lengthAdjust="spacingAndGlyphs" fill="#f79200" stroke="#f79200" stroke-width="0.35">C</text></g>
<g><circle cx="672.2" cy="1164.1" r="10.65" fill="#1c1d21" stroke="#f79200" stroke-width="2.85"/><text x="672.2" y="1169.9" text-anchor="middle" font-family="Liberation Sans, sans-serif" font-weight="bold" font-size="16.6" textLength="11.9" lengthAdjust="spacingAndGlyphs" fill="#f79200" stroke="#f79200" stroke-width="0.35">C</text></g>
<g><circle cx="662.8" cy="1164.1" r="10.65" fill="#1c1d21" stroke="#f79200" stroke-width="2.85"/><text x="662.8" y="1169.9" text-anchor="middle" font-family="Liberation Sans, sans-serif" font-weight="bold" font-size="16.6" textLength="11.9" lengthAdjust="spacingAndGlyphs" fill="#f79200" stroke="#f79200" stroke-width="0.35">C</text></g>
<g><circle cx="643.9" cy="1164.1" r="10.65" fill="#1c1d21" stroke="#f79200" stroke-width="2.85"/><text x="643.9" y="1169.9" text-anchor="middle" font-family="Liberation Sans, sans-serif" font-weight="bold" font-size="16.6" textLength="11.9" lengthAdjust="spacingAndGlyphs" fill="#f79200" stroke="#f79200" stroke-width="0.35">C</text></g>
<g><circle cx="568.5" cy="1164.1" r="10.65" fill="#1c1d21" stroke="#f79200" stroke-width="2.85"/><text x="568.5" y="1169.9" text-anchor="middle" font-family="Liberation Sans, sans-serif" font-weight="bold" font-size="16.6" textLength="11.9" lengthAdjust="spacingAndGlyphs" fill="#f79200" stroke="#f79200" stroke-width="0.35">C</text></g>
<g><circle cx="493.2" cy="1164.1" r="10.65" fill="#1c1d21" stroke="#f79200" stroke-width="2.85"/><text x="493.2" y="1169.9" text-anchor="middle" font-family="Liberation Sans, sans-serif" font-weight="bold" font-size="16.6" textLength="11.9" lengthAdjust="spacingAndGlyphs" fill="#f79200" stroke="#f79200" stroke-width="0.35">C</text></g>
<g><circle cx="483.8" cy="1164.1" r="10.65" fill="#1c1d21" stroke="#f79200" stroke-width="2.85"/><text x="483.8" y="1169.9" text-anchor="middle" font-family="Liberation Sans, sans-serif" font-weight="bold" font-size="16.6" textLength="11.9" lengthAdjust="spacingAndGlyphs" fill="#f79200" stroke="#f79200" stroke-width="0.35">C</text></g>
<g><circle cx="474.3" cy="1164.1" r="10.65" fill="#1c1d21" stroke="#f79200" stroke-width="2.85"/><text x="474.3" y="1169.9" text-anchor="middle" font-family="Liberation Sans, sans-serif" font-weight="bold" font-size="16.6" textLength="11.9" lengthAdjust="spacingAndGlyphs" fill="#f79200" stroke="#f79200" stroke-width="0.35">C</text></g>
<g><circle cx="389.6" cy="1164.1" r="10.65" fill="#1c1d21" stroke="#f79200" stroke-width="2.85"/><text x="389.6" y="1169.9" text-anchor="middle" font-family="Liberation Sans, sans-serif" font-weight="bold" font-size="16.6" textLength="11.9" lengthAdjust="spacingAndGlyphs" fill="#f79200" stroke="#f79200" stroke-width="0.35">C</text></g>
<g><circle cx="323.6" cy="1164.1" r="10.65" fill="#1c1d21" stroke="#f79200" stroke-width="2.85"/><text x="323.6" y="1169.9" text-anchor="middle" font-family="Liberation Sans, sans-serif" font-weight="bold" font-size="16.6" textLength="11.9" lengthAdjust="spacingAndGlyphs" fill="#f79200" stroke="#f79200" stroke-width="0.35">C</text></g>
<g><circle cx="285.9" cy="1164.1" r="10.65" fill="#1c1d21" stroke="#f79200" stroke-width="2.85"/><text x="285.9" y="1169.9" text-anchor="middle" font-family="Liberation Sans, sans-serif" font-weight="bold" font-size="16.6" textLength="11.9" lengthAdjust="spacingAndGlyphs" fill="#f79200" stroke="#f79200" stroke-width="0.35">C</text></g>
<g><circle cx="267.1" cy="1164.1" r="10.65" fill="#1c1d21" stroke="#f79200" stroke-width="2.85"/><text x="267.1" y="1169.9" text-anchor="middle" font-family="Liberation Sans, sans-serif" font-weight="bold" font-size="16.6" textLength="11.9" lengthAdjust="spacingAndGlyphs" fill="#f79200" stroke="#f79200" stroke-width="0.35">C</text></g>
<g><circle cx="248.3" cy="1164.1" r="10.65" fill="#1c1d21" stroke="#f79200" stroke-width="2.85"/><text x="248.3" y="1169.9" text-anchor="middle" font-family="Liberation Sans, sans-serif" font-weight="bold" font-size="16.6" textLength="11.9" lengthAdjust="spacingAndGlyphs" fill="#f79200" stroke="#f79200" stroke-width="0.35">C</text></g>
</svg>

<!-- ===== top toolbar ===== -->
<div class="abs" style="left:81.3px;top:76.8px;width:117.4px;height:43px;border-radius:11px;background:#26272c"></div>
<div class="sep" style="left:261px"></div>
<div class="sep" style="left:337.5px"></div>
<div class="sep" style="left:486px"></div>
<div class="sep" style="left:761.5px"></div>
<div class="sep" style="left:827.5px"></div>
<div class="sep" style="left:893.5px"></div>
<div class="sep" style="left:959px"></div>
<div class="sep" style="left:1068px"></div>
<div class="sep" style="left:1204px"></div>
<svg width="1600" height="1472" viewBox="0 0 1600 1472" style="left:0;top:0" fill="none" stroke="#fff" stroke-width="2" stroke-linecap="round" stroke-linejoin="round">
<!-- chevrons -->
<path d="M170.3,97.3 l4.9,4.9 l4.9,-4.9" stroke-width="1.5"/>
<path d="M455.1,96.3 l4.9,4.9 l4.9,-4.9" stroke-width="1.5"/>
<path d="M618.4,97.2 l4.9,4.9 l4.9,-4.9" stroke-width="1.5"/>
<!-- search -->
<circle cx="228.3" cy="98" r="9"/><path d="M234.9,104.6 L240.3,110"/>
<!-- candle icon -->
<rect x="290.5" y="92.5" width="7.6" height="13.5" rx="2.5"/><path d="M294.3,87.5 V92 M294.3,106.5 V111"/>
<g stroke="#12d09c"><rect x="302.3" y="94.3" width="7.4" height="9.2" rx="2"/><path d="M306,89.5 V94 M306,104 V109"/></g>
<!-- f+ -->
<path d="M517.6,108 q3.6,1 4.8,-3.4 l3.6,-13 q1.2,-4.2 5.2,-3 M520.2,96 h9.6" stroke-width="1.9"/>
<path d="M527.4,105.2 h9 M531.9,100.7 v9" stroke="#12d09c"/>
<!-- pane icon -->
<rect x="785.4" y="87.8" width="19.8" height="21" rx="2.5" stroke-width="2.3"/><path d="M785.4,98.3 H805.2" stroke-width="2.3"/>
<g stroke="#12d09c" stroke-width="1.8"><path d="M789.8,93.9 q3,-2 5.8,-1.2 t6,-1.5"/><path d="M789.8,104.6 q3,-2 5.8,-1.2 t6,-1.5"/></g>
<!-- bell (disabled) -->
<g stroke="#4b4c51"><path d="M851.5,107.5 H871.5 M854.5,107 V97 a8,8 0 0 1 12,-7 M868.5,101 V107 M860.5,86 v2.5 M858,108.5 a3.3,3.3 0 0 0 6.6,0"/><path d="M866,95.7 h9 M870.5,91.2 v9"/></g>
<!-- calendar -->
<path d="M925.5,110 H918.5 a3.2,3.2 0 0 1 -3.2,-3.2 V92.5 a3.2,3.2 0 0 1 3.2,-3.2 H936 a3.2,3.2 0 0 1 3.2,3.2 V101 M915.3,94.8 H939.2 M921.4,85.8 V91.5 M933.2,85.8 V91.5"/>
<path d="M940.3,106.3 H928 M932.5,101.8 L928,106.3 L932.5,110.8" stroke="#12d09c"/>
<!-- undo / redo (disabled) -->
<g stroke="#4b4c51"><path d="M990,88 L985.6,93.2 L990,98.4 M985.8,93.2 H995.2 a7.7,7.7 0 0 1 0,15.4 H990.5"/>
<path d="M1041.5,88 L1045.9,93.2 L1041.5,98.4 M1045.7,93.2 H1036.3 a7.7,7.7 0 0 0 0,15.4 H1041"/></g>
<!-- replay -->
<path d="M1102.4,88.85 A12.15,12.15 0 1 1 1095.47,101.54" stroke-width="2.2"/><path d="M1098.9,86.6 V92.1 H1104.4" stroke-width="2.3" stroke-linecap="butt" stroke-linejoin="miter"/>
<path d="M1105.1,96.3 L1111.2,99.95 L1105.1,103.7 Z" stroke="#12d09c" stroke-width="2"/>
<!-- new order -->
<path d="M1243.5,109 H1234.8 a3,3 0 0 1 -3,-3 V90.4 a3,3 0 0 1 3,-3 H1248 a3,3 0 0 1 3,3 V98.5 M1231.8,93.2 H1251 M1236.5,99.8 H1243.3"/>
<path d="M1247.6,105.6 h8.2 M1251.7,101.5 v8.2" stroke="#12d09c"/>
<!-- cloud -->
<path d="M1390.4,104.3 a5.3,5.3 0 0 1 -0.6,-10.6 a7.6,7.6 0 0 1 14.8,-1.2 a5.9,5.9 0 0 1 0.4,11.7"/>
<g stroke="#12d09c" stroke-width="1.9"><path d="M1395.8,111.4 V101 l-3,3 M1399.8,100.6 V111.4 l3.2,-3.2"/></g>
<!-- edit -->
<path d="M1455.5,89.6 H1450.4 a3,3 0 0 0 -3,3 V105.3 a3,3 0 0 0 3,3 H1463.2"/>
<path d="M1455.6,100.2 L1462.4,92 M1463.3,88.8 v0.1" stroke="#12d09c"/>
<!-- collapse -->
<rect x="1484.2" y="89.6" width="24.6" height="18.6" rx="3.2"/><path d="M1504.3,93.4 V104.4" stroke-width="2.6"/><path d="M1499.5,98.9 H1489 M1493,94.9 L1489,98.9 L1493,102.9"/>
</svg>


<!-- ===== left toolbar ===== -->
<svg width="1600" height="1472" viewBox="0 0 1600 1472" style="left:0;top:0" fill="none" stroke="#fff" stroke-width="2" stroke-linecap="round" stroke-linejoin="round">
<!-- cross -->
<path d="M89.8,170.9 H116.2 M103,157.7 V184.1" stroke="#12d09c" stroke-linecap="butt"/>
<!-- line -->
<path d="M89.2,224.8 H117.4"/>
<!-- fib lines -->
<path d="M89,267.8 H117.4 M89,273.1 H117.4 M89,278.4 H117.4 M89,290 H117.4"/>
<path d="M91.8,286.2 L115,281.9" stroke-dasharray="3.2 3.6"/>
<!-- peaks -->
<path d="M85.8,345.2 L90,324.6 L97.7,338.2 L103,316.6 L108.5,338.2 L116.6,324.6 L120.6,345.2" stroke-width="1.9"/>
<path d="M88.2,338.6 H118.6" stroke-dasharray="3.2 3.2" stroke-width="1.7" stroke-linecap="butt"/>
<!-- arrow between lines -->
<path d="M97.5,373.9 H119.5 M86.8,398.9 H108.8"/>
<path d="M95.6,393.2 C103.5,393 108.2,389 108.5,382.5"/>
<path d="M108.6,379 L104.6,383.2 H112.6 Z" fill="#fff" stroke-width="1.4"/>
<!-- brush -->
<g id="brush"><path d="M98.2,439.2 C93.2,438.6 89.6,442 89.3,447 C89.1,449.6 87.6,450.6 86.3,450.8 C88.6,454.4 92,455.8 95.2,455.7 C100.4,455.5 104.6,452 105.3,446.4 C104.6,442.6 101.8,439.7 98.2,439.2 Z"/>
<path d="M98.2,439.2 L101.4,436.6 L102.6,436.4 L113.8,427.2 C115.8,425.6 118.2,426.6 118.8,428.6 C119.3,430 118.6,431.2 118,431.8 L108.4,441.2 L108.2,442.6 L105.3,446.4"/></g>
<!-- T text -->
<path d="M89.8,484.4 V481.6 H113.6 V484.4 M101.8,481.6 V507.2 M97.4,507.2 H106"/>
<path d="M111,500.7 H118 M111,504 H118 M111,507.3 H118" stroke-width="1.9"/>
<!-- smiley -->
<rect x="89.9" y="534.9" width="26.5" height="26.5" rx="5"/>
<circle cx="97.6" cy="545.1" r="1.6" fill="#fff" stroke="none"/><circle cx="108.7" cy="545.1" r="1.6" fill="#fff" stroke="none"/>
<path d="M98.6,549.6 a4.6,4.6 0 0 0 9.2,0"/>
<!-- separators -->
<path d="M85,588.7 H121.5 M85,714 H121.5 M85,946.7 H121.5" stroke="#303136" stroke-width="1.8"/>
<!-- ruler -->
<g transform="translate(103,624.4) rotate(45)"><rect x="-18.2" y="-6.8" width="36.4" height="13.6" rx="2.2"/><path d="M-8.9,-6.8 v4 M-3,-6.8 v6.4 M2.9,-6.8 v4 M8.8,-6.8 v6.4" stroke-width="1.8"/></g>
<!-- zoom in -->
<circle cx="103" cy="677.1" r="14.2"/><path d="M98.5,677.1 H107.5 M103,672.6 V681.6 M113.6,687.7 L118.2,692.3"/>
<!-- magnet -->
<g transform="translate(101.3,753.1) rotate(45)"><path d="M-13,-15.6 V0 A13,13 0 0 0 13,0 V-15.6 H5.4 V0 A5.4,5.4 0 0 1 -5.4,0 V-15.6 Z M-13,-9.8 H-5.4 M5.4,-9.8 H13"/></g>
<!-- brush + lock -->
<g transform="translate(6.4,402.6) scale(0.905)" stroke-width="2.2"><path d="M98.2,439.2 C93.2,438.6 89.6,442 89.3,447 C89.1,449.6 87.6,450.6 86.3,450.8 C88.6,454.4 92,455.8 95.2,455.7 C100.4,455.5 104.6,452 105.3,446.4 C104.6,442.6 101.8,439.7 98.2,439.2 Z"/>
<path d="M98.2,439.2 L101.4,436.6 L102.6,436.4 L113.8,427.2 C115.8,425.6 118.2,426.6 118.8,428.6 C119.3,430 118.6,431.2 118,431.8 L108.4,441.2 L108.2,442.6 L105.3,446.4"/></g>
<rect x="107.2" y="810.2" width="12.6" height="8.6" rx="1.6" stroke-width="1.8"/><path d="M110.2,810 V806.4 a3.4,3.4 0 0 1 6.8,0 M113.5,813.4 v2.2" stroke-width="1.8"/>
<!-- lock -->
<rect x="90.9" y="857.3" width="25.2" height="15.2" rx="3"/><path d="M96.2,857 V851 a7.4,7.4 0 0 1 14.8,-0.6"/>
<path d="M100.8,862.4 H106.2 M103.5,862.4 V867" stroke-width="2.3" stroke-linecap="butt"/>
<!-- eye -->
<path d="M87.6,911.4 C92,903.8 97.4,900.7 103.4,900.7 C109.4,900.7 114.8,903.8 119.2,911.4 C114.8,919.4 109.4,922.5 103.4,922.5 C97.4,922.5 92,919.4 87.6,911.4 Z"/><circle cx="103.4" cy="911.4" r="6.3"/>
<!-- trash -->
<path d="M89.4,974 H117.2 M98.4,973.6 V971.4 a2,2 0 0 1 2,-2 H106.6 a2,2 0 0 1 2,2 V973.6 M93.6,974.4 V993.2 a2.8,2.8 0 0 0 2.8,2.8 H110.4 a2.8,2.8 0 0 0 2.8,-2.8 V974.4 M100.1,980.6 V990 M106.7,980.6 V990"/>
</svg>


<!-- ===== legend ===== -->
<svg width="1600" height="1472" viewBox="0 0 1600 1472" style="left:0;top:0"><circle cx="161.1" cy="164.3" r="11.7" fill="#000"/><g fill="#fcd800"><rect x="152" y="162" width="2.9" height="5.3" rx="1.3"/><rect x="156" y="160.2" width="2.8" height="8.8" rx="1.3"/><rect x="160" y="158.5" width="3" height="12" rx="1.4"/><circle cx="166.9" cy="164.5" r="3"/></g></svg>
<div class="abs" style="left:553px;top:157px;width:12px;height:12px;border-radius:6px;background:#14cf9a"></div>

<!-- watermark -->
<svg width="1600" height="1472" viewBox="0 0 1600 1472" style="left:0;top:0"><path d="M236.5,1137.5 L246.3,1126.2 L246.6,1139 Z" fill="rgba(10,11,13,0.62)"/></svg>
<div class="abs" style="left:161.5px;top:1125.6px;font-size:40.6px;line-height:50px;font-weight:bold;letter-spacing:-0.45px;color:rgba(38,146,118,0.84);-webkit-text-stroke:5.5px rgba(10,11,13,0.62);paint-order:stroke fill">FastBull</div>

<!-- ===== tabs ===== -->
<div class="abs" style="left:138px;top:1234px;width:1388px;height:54px;border-radius:10px;background:#292a2f"></div>
<div class="abs" style="left:143px;top:1239.5px;width:237px;height:43px;border-radius:9px;background:#1c1d21"></div>
<svg width="1600" height="1472" viewBox="0 0 1600 1472" style="left:0;top:0" fill="none" stroke="#fff" stroke-width="2" stroke-linecap="round" stroke-linejoin="round">
<path d="M103.0,1243.1 L107.2,1251.6 L116.5,1252.9 L109.8,1259.5 L111.3,1268.8 L103.0,1264.4 L94.7,1268.8 L96.2,1259.5 L89.5,1252.9 L98.8,1251.6 Z" stroke-width="2.2"/>
<path d="M348.3,1255.4 l10.6,10.6 M358.9,1255.4 l-10.6,10.6 M585,1255.4 l10.6,10.6 M595.6,1255.4 l-10.6,10.6" stroke="#b5b6b9" stroke-width="1.3"/>
<path d="M616.6,1250.5 V1271" stroke="#3a3b40" stroke-width="1.5"/>
<path d="M641.5,1261.6 H657.3 M649.4,1253.7 V1269.5"/>
<!-- small lock -->
<rect x="515.2" y="1257.6" width="13" height="10.4" rx="2" fill="#8e8f93" stroke="none"/><path d="M518.2,1258 V1255.6 a3.5,3.5 0 0 1 7,0 V1258" stroke="#8e8f93" stroke-width="1.7"/>
<path d="M518.6,1264 q1.6,-2 3,-1 t3.2,-1.2" stroke="#292a2f" stroke-width="1.1"/>
<!-- gear -->
<path d="M1499.86,1210.42 L1499.86,1213.58 L1497.80,1213.68 L1496.94,1215.76 L1498.33,1217.29 L1496.09,1219.53 L1494.56,1218.14 L1492.48,1219.00 L1492.38,1221.06 L1489.22,1221.06 L1489.12,1219.00 L1487.04,1218.14 L1485.51,1219.53 L1483.27,1217.29 L1484.66,1215.76 L1483.80,1213.68 L1481.74,1213.58 L1481.74,1210.42 L1483.80,1210.32 L1484.66,1208.24 L1483.27,1206.71 L1485.51,1204.47 L1487.04,1205.86 L1489.12,1205.00 L1489.22,1202.94 L1492.38,1202.94 L1492.48,1205.00 L1494.56,1205.86 L1496.09,1204.47 L1498.33,1206.71 L1496.94,1208.24 L1497.80,1210.32 Z" stroke="#bfc0c3" stroke-width="1.3"/><circle cx="1490.8" cy="1212" r="2.9" stroke="#bfc0c3" stroke-width="1.3"/>
<!-- layout icons -->
<rect x="1388.1" y="1253.6" width="22.6" height="16.1" rx="3.2" stroke-width="2.1"/><path d="M1398.5,1253.6 V1269.7 M1398.5,1261.8 H1410.7" stroke-width="2.1"/>
<rect x="1439" y="1255.5" width="18" height="11" rx="2.6" stroke-width="2.1"/>
<path d="M1493,1253 H1490.6 a3.6,3.6 0 0 0 -3.6,3.6 V1258.6 M1499.5,1253 H1501.9 a3.6,3.6 0 0 1 3.6,3.6 V1258.6 M1487,1263.6 V1265.4 a3.6,3.6 0 0 0 3.6,3.6 H1493 M1505.5,1263.6 V1265.4 a3.6,3.6 0 0 1 -3.6,3.6 H1499.5" stroke-width="2.1"/>
</svg>

<!-- ===== bottom bar ===== -->
<div class="abs" style="left:84px;top:1315px;width:178px;height:43px;border-radius:10px;border:1.5px solid #34353a"></div>
<div class="btn" style="left:268px;width:118px;background:#34353a"></div>
<div class="btn" style="left:392px;width:94px"></div>
<div class="abs" style="left:497px;top:1323px;width:1.5px;height:27px;background:#303136"></div>
<div class="btn" style="left:509px;width:171px"></div>
<div class="btn" style="left:686px;width:221px"></div>
<div class="btn" style="left:913px;width:129px;background:#0e2e27"></div>
<div class="btn" style="left:1048px;width:48px"></div>
<svg width="1600" height="1472" viewBox="0 0 1600 1472" style="left:0;top:0" fill="none" stroke="#fff" stroke-width="2" stroke-linecap="round" stroke-linejoin="round">
<!-- account logo -->
<rect x="102" y="1324" width="23.8" height="24.6" rx="5" fill="#000" stroke="none"/>
<g fill="#fcd800" stroke="none"><rect x="105.5" y="1334.2" width="2.2" height="4.4" rx="1"/><rect x="109.1" y="1332.5" width="2.7" height="7.9" rx="1.2"/><rect x="113" y="1330.7" width="2.7" height="11.2" rx="1.2"/><circle cx="119.5" cy="1336.4" r="2.8"/></g>
<!-- shield -->
<path d="M219,1328.2 C221.5,1329.6 224.3,1330.2 227.2,1330.3 V1337 C227.2,1341 224,1343.8 219,1345.2 C214,1343.8 210.8,1341 210.8,1337 V1330.3 C213.7,1330.2 216.5,1329.6 219,1328.2 Z" fill="#f5a41f" stroke="none"/>
<path d="M215.4,1336.6 L218.2,1339.2 L222.8,1334.2" stroke="#1c1d21" stroke-width="1.9"/>
<path d="M231.6,1334 l5.5,5.4 l5.5,-5.4" stroke="#b5b6b9" stroke-width="1.3"/>
<!-- open account icon -->
<g stroke="#d6d6d8" stroke-width="1.3"><path d="M539.5,1344.6 H531.2 a2.6,2.6 0 0 1 -2.6,-2.6 V1332.5 a2.6,2.6 0 0 1 2.6,-2.6 H543.2 a2.6,2.6 0 0 1 2.6,2.6 V1338.4 M528.6,1334.6 H545.8"/></g>
<path d="M540.6,1342.9 h6.4 M543.8,1339.7 v6.4" stroke="#12d09c" stroke-width="1.3"/>
<!-- copy trade icon -->
<g stroke="#d6d6d8" stroke-width="1.3"><rect x="705.6" y="1327.6" width="13.2" height="16.6" rx="3.2"/><path d="M721.6,1331.2 V1343 a3.6,3.6 0 0 1 -3.6,3.6 H710"/></g>
<text x="712.2" y="1340" text-anchor="middle" font-family="Liberation Sans, sans-serif" font-weight="bold" font-size="10.5" fill="#12d09c" stroke="none">$</text>
<!-- deposit icon -->
<path d="M935.86,1332.65 A7.9,7.9 0 1 1 935.86,1340.55" stroke="#e6e7e8" stroke-width="1.2"/>
<path d="M933.6,1336.6 H945.6 M941.6,1332.6 L945.8,1336.6 L941.6,1340.6" stroke="#12d09c" stroke-width="1.5"/>
<!-- dots -->
<g fill="#85868b" stroke="none"><circle cx="1065.4" cy="1336.3" r="1.8"/><circle cx="1071.7" cy="1336.3" r="1.8"/><circle cx="1078.1" cy="1336.3" r="1.8"/></g>
<!-- caret up + rect -->
<path d="M1435.2,1341.4 L1446.4,1331 L1457.6,1341.4"/>
<rect x="1485.5" y="1328.3" width="24.4" height="16.1" rx="3.2"/>
</svg>

<!-- ===== status row ===== -->
<div class="abs" style="left:1368px;top:1390px;width:1.5px;height:28px;background:#2a2b30"></div>
<svg width="1600" height="1472" viewBox="0 0 1600 1472" style="left:0;top:0" fill="none" stroke="#fff" stroke-width="2" stroke-linecap="round" stroke-linejoin="round">
<path d="M1333.8,1402.6 l5.1,5 l5.1,-5" stroke-width="1.5"/>
<g stroke="#3ccf6a" stroke-width="2.5" stroke-linecap="butt"><path d="M1392.08,1401.03 A15.8,15.8 0 0 1 1414.42,1401.03"/><path d="M1395.47,1404.42 A11,11 0 0 1 1411.03,1404.42"/><path d="M1398.72,1407.67 A6.4,6.4 0 0 1 1407.78,1407.67"/></g>
<path d="M1403.25,1412.2 L1400.15,1409.10 A4.4,4.4 0 0 1 1406.35,1409.10 Z" fill="#3ccf6a" stroke="none"/>
</svg>
<div class="t" style="left:98.8px;top:85.99px;font-size:18.5px;letter-spacing:-0.008px;color:#fff;-webkit-text-stroke:0.3px #fff">Biểu đồ</div>
<div class="t" style="left:364.0px;top:85.99px;font-size:18.5px;letter-spacing:-1.703px;color:#fff;-webkit-text-stroke:0.3px #fff">M1</div>
<div class="t" style="left:411.7px;top:85.99px;font-size:18.5px;letter-spacing:-1.756px;color:#0cc98e;-webkit-text-stroke:0.3px #0cc98e">H1</div>
<div class="t" style="left:545.0px;top:85.99px;font-size:18.5px;letter-spacing:-0.044px;color:#fff;-webkit-text-stroke:0.3px #fff">Chỉ báo</div>
<div class="t" style="left:652.8px;top:85.99px;font-size:18.5px;letter-spacing:-0.112px;color:#fff;-webkit-text-stroke:0.3px #fff">%R</div>
<div class="t" style="left:704.0px;top:85.99px;font-size:18.5px;letter-spacing:0.477px;color:#fff;-webkit-text-stroke:0.3px #fff">ADX</div>
<div class="t" style="left:1127.3px;top:85.99px;font-size:18.5px;letter-spacing:-0.019px;color:#fff;-webkit-text-stroke:0.3px #fff">Replay</div>
<div class="t" style="left:1262.2px;top:85.99px;font-size:18.5px;letter-spacing:0.050px;color:#fff;-webkit-text-stroke:0.3px #fff">Lệnh mới</div>
<div class="t" style="left:180.0px;top:153.10px;font-size:20.5px;letter-spacing:-0.084px;color:#d9dadc">Euro vs US Dollar, H1, Không điều chỉnh</div>
<div class="t" style="left:580.4px;top:152.86px;font-size:18.3px;letter-spacing:-1.128px;color:#d1d2d4">Mở =</div>
<div class="t" style="left:626.4px;top:152.86px;font-size:18.3px;letter-spacing:-0.732px;color:#0cc98e">1.16888</div>
<div class="t" style="left:703.0px;top:152.86px;font-size:18.3px;letter-spacing:-1.074px;color:#d1d2d4">Cao =</div>
<div class="t" style="left:754.5px;top:152.86px;font-size:18.3px;letter-spacing:-0.682px;color:#0cc98e">1.16930</div>
<div class="t" style="left:830.8px;top:152.86px;font-size:18.3px;letter-spacing:-0.688px;color:#d1d2d4">Thấp =</div>
<div class="t" style="left:891.5px;top:152.86px;font-size:18.3px;letter-spacing:-0.682px;color:#0cc98e">1.16873</div>
<div class="t" style="left:967.0px;top:152.86px;font-size:18.3px;letter-spacing:-0.094px;color:#d1d2d4">Đóng =</div>
<div class="t" style="left:1031.5px;top:152.86px;font-size:18.3px;letter-spacing:-0.766px;color:#0cc98e">1.16921</div>
<div class="t" style="left:1108.8px;top:152.86px;font-size:18.3px;letter-spacing:0.000px;color:#d1d2d4">V</div>
<div class="t" style="left:1124.8px;top:152.86px;font-size:18.3px;letter-spacing:-1.158px;color:#0cc98e">547</div>
<div class="t" style="left:1168.0px;top:152.86px;font-size:18.3px;letter-spacing:-0.608px;color:#0cc98e">+0.00033 (+0.03%)</div>
<div class="t" style="left:160.5px;top:1248.79px;font-size:18.5px;letter-spacing:-0.007px;color:#fff;font-weight:bold">EURUSD, H1</div>
<div class="t" style="left:396.7px;top:1248.79px;font-size:18.5px;letter-spacing:0.026px;color:#fff;-webkit-text-stroke:0.25px #fff">XAGUSD, H1</div>
<div class="t" style="left:132.9px;top:1323.99px;font-size:18.2px;letter-spacing:0.065px;color:#fff;-webkit-text-stroke:0.25px #fff">7793938</div>
<div class="t" style="left:285.0px;top:1323.86px;font-size:18.6px;letter-spacing:-0.002px;color:#fff;-webkit-text-stroke:0.25px #fff;font-weight:bold">Giao dịch</div>
<div class="t" style="left:408.0px;top:1323.86px;font-size:18.6px;letter-spacing:-0.055px;color:#fff;-webkit-text-stroke:0.25px #fff">Lịch sử</div>
<div class="t" style="left:555.7px;top:1323.86px;font-size:18.6px;letter-spacing:-0.038px;color:#fff;-webkit-text-stroke:0.25px #fff">Mở tài khoản</div>
<div class="t" style="left:732.0px;top:1323.86px;font-size:18.6px;letter-spacing:0.060px;color:#fff;-webkit-text-stroke:0.25px #fff">Sao chép giao dịch</div>
<div class="t" style="left:959.7px;top:1323.86px;font-size:18.6px;letter-spacing:-0.084px;color:#fff;-webkit-text-stroke:0.25px #fff">Gửi tiền</div>
<div class="t" style="left:80.6px;top:1393.35px;font-size:19.2px;letter-spacing:-0.395px;color:#a9abb0">16:02:11</div>
<div class="t" style="left:168.0px;top:1391.79px;font-size:18.5px;letter-spacing:0.143px;color:#fff;-webkit-text-stroke:0.2px #fff">Bộ trưởng Kinh tế Đan Mạch: Chúng tôi đang xem xét tất cả các phương án liên quan đến phản ứng trước các mối…</div>
<div class="t" style="left:1199.2px;top:1394.36px;font-size:18.6px;letter-spacing:-0.898px;color:#fff;-webkit-text-stroke:0.3px #fff">16:04:42 UTC+8</div>
<div class="t" style="left:1432.0px;top:1394.36px;font-size:18.6px;letter-spacing:-1.156px;color:#fff;-webkit-text-stroke:0.3px #fff">41ms</div>
<div class="t" style="left:1454.0px;top:143.61px;font-size:17px;letter-spacing:-0.409px;color:#d4d5d7;-webkit-text-stroke:0.25px #d4d5d7">1.17209</div>
<div class="t" style="left:1454.0px;top:190.70px;font-size:17px;letter-spacing:-0.409px;color:#d4d5d7;-webkit-text-stroke:0.25px #d4d5d7">1.17132</div>
<div class="t" style="left:1454.0px;top:237.80px;font-size:17px;letter-spacing:-0.409px;color:#d4d5d7;-webkit-text-stroke:0.25px #d4d5d7">1.17054</div>
<div class="t" style="left:1454.0px;top:284.89px;font-size:17px;letter-spacing:-0.409px;color:#d4d5d7;-webkit-text-stroke:0.25px #d4d5d7">1.16977</div>
<div class="t" style="left:1454.0px;top:331.99px;font-size:17px;letter-spacing:-0.409px;color:#d4d5d7;-webkit-text-stroke:0.25px #d4d5d7">1.16899</div>
<div class="t" style="left:1454.0px;top:379.08px;font-size:17px;letter-spacing:-0.409px;color:#d4d5d7;-webkit-text-stroke:0.25px #d4d5d7">1.16822</div>
<div class="t" style="left:1454.0px;top:426.18px;font-size:17px;letter-spacing:-0.409px;color:#d4d5d7;-webkit-text-stroke:0.25px #d4d5d7">1.16744</div>
<div class="t" style="left:1454.0px;top:473.27px;font-size:17px;letter-spacing:-0.409px;color:#d4d5d7;-webkit-text-stroke:0.25px #d4d5d7">1.16667</div>
<div class="t" style="left:1454.0px;top:520.37px;font-size:17px;letter-spacing:-0.409px;color:#d4d5d7;-webkit-text-stroke:0.25px #d4d5d7">1.16590</div>
<div class="t" style="left:1454.0px;top:567.46px;font-size:17px;letter-spacing:-0.409px;color:#d4d5d7;-webkit-text-stroke:0.25px #d4d5d7">1.16512</div>
<div class="t" style="left:1454.0px;top:614.56px;font-size:17px;letter-spacing:-0.409px;color:#d4d5d7;-webkit-text-stroke:0.25px #d4d5d7">1.16435</div>
<div class="t" style="left:1454.0px;top:661.65px;font-size:17px;letter-spacing:-0.409px;color:#d4d5d7;-webkit-text-stroke:0.25px #d4d5d7">1.16357</div>
<div class="t" style="left:1454.0px;top:708.75px;font-size:17px;letter-spacing:-0.409px;color:#d4d5d7;-webkit-text-stroke:0.25px #d4d5d7">1.16280</div>
<div class="t" style="left:1454.0px;top:755.84px;font-size:17px;letter-spacing:-0.409px;color:#d4d5d7;-webkit-text-stroke:0.25px #d4d5d7">1.16202</div>
<div class="t" style="left:1454.0px;top:802.94px;font-size:17px;letter-spacing:-0.409px;color:#d4d5d7;-webkit-text-stroke:0.25px #d4d5d7">1.16125</div>
<div class="t" style="left:1454.0px;top:850.03px;font-size:17px;letter-spacing:-0.409px;color:#d4d5d7;-webkit-text-stroke:0.25px #d4d5d7">1.16048</div>
<div class="t" style="left:1454.0px;top:897.13px;font-size:17px;letter-spacing:-0.409px;color:#d4d5d7;-webkit-text-stroke:0.25px #d4d5d7">1.15970</div>
<div class="t" style="left:1454.0px;top:944.22px;font-size:17px;letter-spacing:-0.409px;color:#d4d5d7;-webkit-text-stroke:0.25px #d4d5d7">1.15893</div>
<div class="t" style="left:1454.0px;top:991.32px;font-size:17px;letter-spacing:-0.409px;color:#d4d5d7;-webkit-text-stroke:0.25px #d4d5d7">1.15815</div>
<div class="t" style="left:1454.0px;top:1038.41px;font-size:17px;letter-spacing:-0.409px;color:#d4d5d7;-webkit-text-stroke:0.25px #d4d5d7">1.15738</div>
<div class="t" style="left:1454.0px;top:1085.51px;font-size:17px;letter-spacing:-0.409px;color:#d4d5d7;-webkit-text-stroke:0.25px #d4d5d7">1.15660</div>
<div class="t" style="left:1454.0px;top:1132.60px;font-size:17px;letter-spacing:-0.409px;color:#d4d5d7;-webkit-text-stroke:0.25px #d4d5d7">1.15583</div>
<div class="t" style="left:157.5px;top:1200.58px;font-size:16.8px;letter-spacing:-0.246px;color:#d4d5d7;-webkit-text-stroke:0.25px #d4d5d7">16:00,13/01</div>
<div class="t" style="left:298.8px;top:1200.58px;font-size:16.8px;letter-spacing:-0.246px;color:#d4d5d7;-webkit-text-stroke:0.25px #d4d5d7">07:00,14/01</div>
<div class="t" style="left:463.2px;top:1200.58px;font-size:16.8px;letter-spacing:-0.500px;color:#d4d5d7;-webkit-text-stroke:0.25px #d4d5d7">22:00</div>
<div class="t" style="left:581.4px;top:1200.58px;font-size:16.8px;letter-spacing:-0.246px;color:#d4d5d7;-webkit-text-stroke:0.25px #d4d5d7">13:00,15/01</div>
<div class="t" style="left:722.7px;top:1200.58px;font-size:16.8px;letter-spacing:-0.246px;color:#d4d5d7;-webkit-text-stroke:0.25px #d4d5d7">04:00,16/01</div>
<div class="t" style="left:887.1px;top:1200.58px;font-size:16.8px;letter-spacing:-0.500px;color:#d4d5d7;-webkit-text-stroke:0.25px #d4d5d7">19:00</div>
<div class="t" style="left:1005.3px;top:1200.58px;font-size:16.8px;letter-spacing:-0.246px;color:#d4d5d7;-webkit-text-stroke:0.25px #d4d5d7">10:00,19/01</div>
<div class="t" style="left:1146.6px;top:1200.58px;font-size:16.8px;letter-spacing:-0.246px;color:#d4d5d7;-webkit-text-stroke:0.25px #d4d5d7">01:00,20/01</div>
<div class="t" style="left:1311.0px;top:1200.58px;font-size:16.8px;letter-spacing:-0.500px;color:#d4d5d7;-webkit-text-stroke:0.25px #d4d5d7">16:00</div>
<div class="abs" style="left:1446px;top:312.8px;width:75px;height:33.4px;border-radius:3px;background:#f5a623;border-top:1.3px solid #12c48b"></div>
<div class="t" style="left:1455.0px;top:318.34px;font-size:17.2px;letter-spacing:-1.057px;color:#262935">1.16921</div>
</body>
</html>
